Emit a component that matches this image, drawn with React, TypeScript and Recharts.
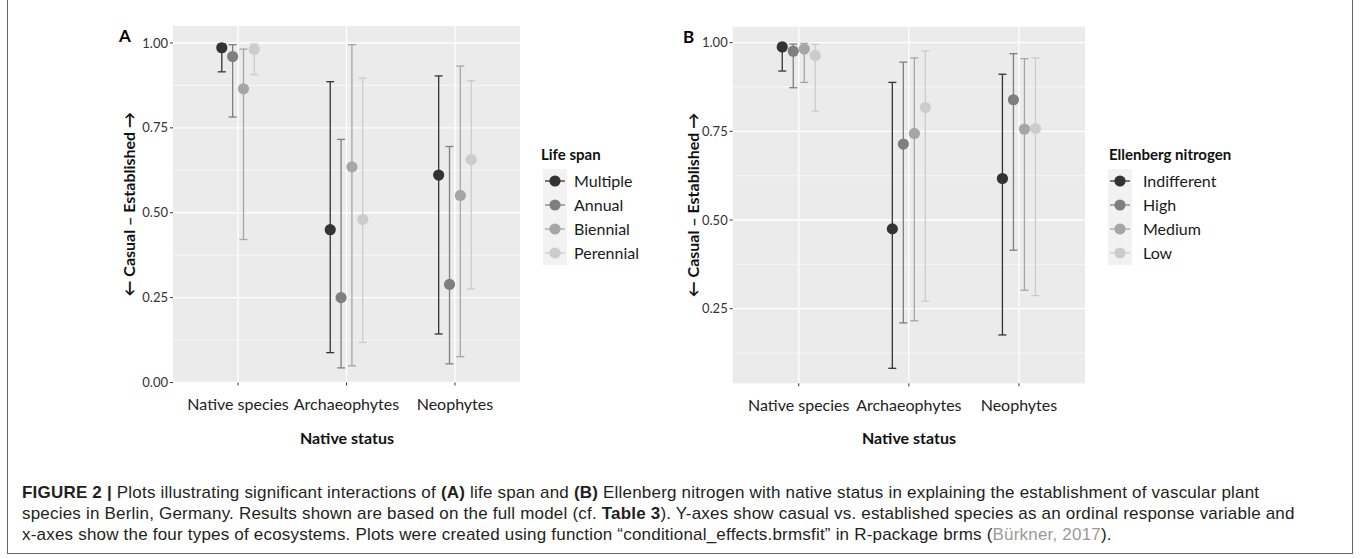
import React from 'react'
import { ComposedChart, Scatter, ErrorBar, XAxis, YAxis, CartesianGrid, Label } from 'recharts'

const statusCats = ['Native species', 'Archaeophytes', 'Neophytes']
const dodgeOffsets = [-0.15, -0.05, 0.05, 0.15]
const greyShades = ['#333333', '#7f7f7f', '#a6a6a6', '#cccccc']

// panel A – life span (rows = groups, cols = native status)
const lifeSpanNames = ['Multiple', 'Annual', 'Biennial', 'Perennial']
const lifeSpanEst = [
  [0.986, 0.450, 0.611],
  [0.960, 0.250, 0.289],
  [0.865, 0.635, 0.551],
  [0.981, 0.480, 0.657],
]
const lifeSpanLower = [
  [0.915, 0.088, 0.143],
  [0.782, 0.043, 0.055],
  [0.421, 0.049, 0.076],
  [0.907, 0.118, 0.276],
]
const lifeSpanUpper = [
  [0.997, 0.886, 0.903],
  [0.995, 0.716, 0.695],
  [0.982, 0.995, 0.932],
  [0.997, 0.897, 0.889],
]

// panel B – Ellenberg nitrogen
const nitrogenNames = ['Indifferent', 'High', 'Medium', 'Low']
const nitrogenEst = [
  [0.988, 0.475, 0.617],
  [0.976, 0.714, 0.839],
  [0.982, 0.744, 0.756],
  [0.964, 0.817, 0.758],
]
const nitrogenLower = [
  [0.920, 0.082, 0.176],
  [0.873, 0.210, 0.415],
  [0.888, 0.216, 0.302],
  [0.807, 0.271, 0.287],
]
const nitrogenUpper = [
  [0.998, 0.888, 0.911],
  [0.996, 0.945, 0.969],
  [0.998, 0.957, 0.955],
  [0.995, 0.977, 0.957],
]

const yTicksA = [0, 0.25, 0.5, 0.75, 1]
const yTicksB = [0.25, 0.5, 0.75, 1]
const minorY = [0.125, 0.375, 0.625, 0.875]
const font = 'Lato, "Open Sans", sans-serif'

function Panel({ names, est, lower, upper, yDomain, yTicks, width, margin, titleDx, xTitleX }: any) {
  const series = names.map((_: string, g: number) =>
    est[g].map((v: number, c: number) => ({
      x: c + 1 + dodgeOffsets[g],
      y: v,
      err: [v - lower[g][c], upper[g][c] - v],
    }))
  )

  const yTitle = (props: any) => {
    const vb = props.viewBox
    const cx = vb.x + titleDx
    const cy = vb.y + vb.height / 2
    return (
      <text x={cx} y={cy} transform={`rotate(-90 ${cx} ${cy})`} textAnchor="middle" dominantBaseline="central"
        style={{ fontFamily: font, fontSize: 16, fontWeight: 700, fill: '#111' }}>
        ← Casual – Established →
      </text>
    )
  }
  const xTitle = () => (
    <text x={xTitleX} y={437} textAnchor="middle" dominantBaseline="central"
      style={{ fontFamily: font, fontSize: 16, fontWeight: 700, fill: '#111' }}>
      Native status
    </text>
  )

  return (
    <ComposedChart width={width} height={460} margin={margin}>
      <CartesianGrid fill="#ebebeb" stroke="#ffffff" strokeWidth={0.6} vertical={false} horizontalValues={minorY} />
      <CartesianGrid fill="none" stroke="#ffffff" strokeWidth={1.3} horizontalValues={yTicks} verticalValues={[1, 2, 3]} />
      <XAxis type="number" dataKey="x" domain={[0.4, 3.6]} ticks={[1, 2, 3]} allowDataOverflow height={60}
        tickFormatter={(v) => statusCats[v - 1]} axisLine={false} tickLine={{ stroke: '#333' }} tickSize={3} tickMargin={13}
        tick={{ fill: '#222', fontSize: 16, fontFamily: font }}>
        <Label content={xTitle} />
      </XAxis>
      <YAxis type="number" dataKey="y" domain={yDomain} ticks={yTicks} allowDataOverflow width={50}
        tickFormatter={(v) => v.toFixed(2)} axisLine={false} tickLine={{ stroke: '#333' }} tickSize={3} tickMargin={2}
        tick={{ fill: '#333', fontSize: 13, fontFamily: font }}>
        <Label content={yTitle} />
      </YAxis>
      {series.map((d: any, g: number) => (
        <Scatter key={'e' + g} data={d} shape={() => <g />} isAnimationActive={false}>
          <ErrorBar dataKey="err" direction="y" width={4} stroke={greyShades[g]} strokeWidth={1.3} isAnimationActive={false} />
        </Scatter>
      ))}
      {series.map((d: any, g: number) => (
        <Scatter key={'p' + g} data={d} fill={greyShades[g]} isAnimationActive={false}
          shape={(p: any) => <circle cx={p.cx} cy={p.cy} r={5.6} fill={greyShades[g]} />} />
      ))}
    </ComposedChart>
  )
}

function LegendBlock({ title, names, left, keyLeft, labelLeft }: any) {
  return (
    <>
      <div style={{ position: 'absolute', left, top: 145, fontFamily: font, fontSize: 15, fontWeight: 700, lineHeight: '18px', color: '#111' }}>
        {title}
      </div>
      <svg style={{ position: 'absolute', left: keyLeft, top: 169 }} width={24} height={96}>
        <rect x={0} y={0} width={24} height={96} fill="#f2f2f2" />
        {names.map((n: string, i: number) => (
          <g key={n}>
            <line x1={2} x2={22} y1={12 + i * 24} y2={12 + i * 24} stroke={greyShades[i]} strokeWidth={1.3} />
            <circle cx={12} cy={12 + i * 24} r={5.6} fill={greyShades[i]} />
          </g>
        ))}
      </svg>
      {names.map((n: string, i: number) => (
        <div key={n} style={{ position: 'absolute', left: labelLeft, top: 169 + i * 24 + 2, fontFamily: font, fontSize: 16, lineHeight: '20px', color: '#1a1a1a' }}>
          {n}
        </div>
      ))}
    </>
  )
}

export default function App() {
  const capStyle: React.CSSProperties = {
    fontFamily: '"Liberation Sans", Arial, sans-serif', fontSize: 17, letterSpacing: '0.2px',
    lineHeight: '21px', color: '#231f20', whiteSpace: 'nowrap',
  }
  return (
    <div style={{ position: 'absolute', left: 0, top: 0, width: 1360, height: 559, background: '#fff', overflow: 'hidden' }}>
      <div style={{ position: 'absolute', left: 7, top: -2, width: 1344, height: 554, border: '1px solid #666' }} />

      <div style={{ position: 'absolute', left: 0, top: 0 }}>
        <Panel names={lifeSpanNames} est={lifeSpanEst} lower={lifeSpanLower} upper={lifeSpanUpper}
          yDomain={[0, 1.05]} yTicks={yTicksA} width={530}
          margin={{ top: 26, right: 10, bottom: 17.5, left: 123 }} titleDx={5} xTitleX={347} />
      </div>
      <div style={{ position: 'absolute', left: 620, top: 0 }}>
        <Panel names={nitrogenNames} est={nitrogenEst} lower={nitrogenLower} upper={nitrogenUpper}
          yDomain={[0.0397, 1.045]} yTicks={yTicksB} width={475}
          margin={{ top: 26.7, right: 10, bottom: 16.7, left: 62.7 }} titleDx={10} xTitleX={289} />
      </div>

      <div style={{ position: 'absolute', left: 119, top: 25, fontFamily: font, fontSize: 17, fontWeight: 700 }}>A</div>
      <div style={{ position: 'absolute', left: 683, top: 26, fontFamily: font, fontSize: 17, fontWeight: 700 }}>B</div>

      <LegendBlock title="Life span" names={lifeSpanNames} left={541} keyLeft={543} labelLeft={574} />
      <LegendBlock title="Ellenberg nitrogen" names={nitrogenNames} left={1109} keyLeft={1108} labelLeft={1143} />

      <div style={{ position: 'absolute', left: 22, top: 482, ...capStyle }}>
        <b>FIGURE 2 |</b> Plots illustrating significant interactions of <b>(A)</b> life span and <b>(B)</b> Ellenberg nitrogen with native status in explaining the establishment of vascular plant
        <br />
        species in Berlin, Germany. Results shown are based on the full model (cf. <b>Table 3</b>). Y-axes show casual vs. established species as an ordinal response variable and
        <br />
        x-axes show the four types of ecosystems. Plots were created using function “conditional_effects.brmsfit” in R-package brms (<span style={{ color: '#9a9a9a' }}>Bürkner, 2017</span>).
      </div>
    </div>
  )
}
